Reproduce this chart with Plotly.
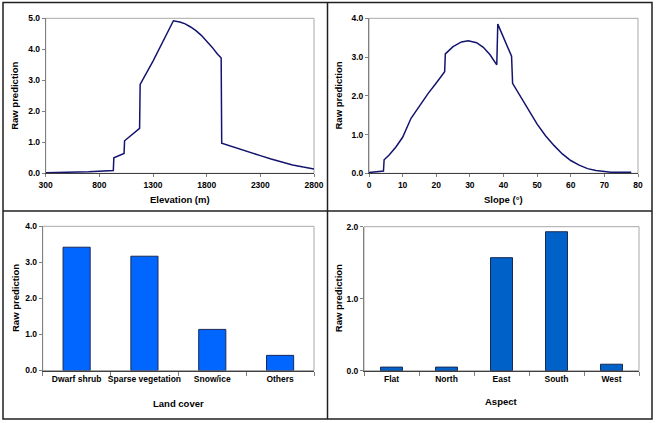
import plotly.graph_objects as go

W, H = 656, 423

# ---- data ----
elev_x = [300, 500, 700, 930, 935, 1030, 1035, 1175, 1180, 1300, 1400, 1490, 1550, 1600, 1650, 1700,
          1750, 1800, 1850, 1900, 1935, 1940, 2000, 2100, 2200, 2300, 2400, 2500, 2600, 2700, 2800]
elev_y = [0.02, 0.03, 0.05, 0.09, 0.50, 0.64, 1.05, 1.45, 2.87, 3.62, 4.30, 4.92, 4.88, 4.82, 4.72, 4.60,
          4.45, 4.27, 4.07, 3.85, 3.72, 0.97, 0.90, 0.79, 0.68, 0.57, 0.46, 0.36, 0.27, 0.20, 0.14]

slope_x = [0, 4.3, 4.5, 6, 8, 10, 12.5, 15, 17.5, 20, 22.5, 22.7, 25, 27.5, 29.5, 32, 34, 36, 38, 38.3,
           42.4, 42.7, 45, 47.5, 50, 52.5, 55, 57.5, 60, 62.5, 65, 67.5, 70, 72, 78]
slope_y = [0.02, 0.06, 0.35, 0.47, 0.68, 0.93, 1.42, 1.75, 2.05, 2.33, 2.62, 3.08, 3.27, 3.39, 3.42, 3.37,
           3.25, 3.06, 2.80, 3.85, 3.02, 2.32, 1.98, 1.62, 1.27, 0.97, 0.72, 0.50, 0.33, 0.21, 0.12, 0.07,
           0.04, 0.03, 0.03]

land_cats = ["Dwarf shrub", "Sparse vegetation", "Snow/ice", "Others"]
land_vals = [3.42, 3.17, 1.14, 0.42]

aspect_cats = ["Flat", "North", "East", "South", "West"]
aspect_vals = [0.05, 0.05, 1.57, 1.93, 0.09]

FONT = "Liberation Sans"
TICKFONT = dict(family=FONT, size=8.5, color="black", weight="bold")
TITLEFONT = dict(family=FONT, size=9.5, color="black")

def dx(px):
    return px / W

def dy(px):
    return 1 - px / H

fig = go.Figure()

fig.add_trace(go.Scatter(x=elev_x, y=elev_y, mode="lines", line=dict(color="#14146e", width=1.5),
                         xaxis="x", yaxis="y", showlegend=False))
fig.add_trace(go.Scatter(x=slope_x, y=slope_y, mode="lines", line=dict(color="#14146e", width=1.5),
                         xaxis="x2", yaxis="y2", showlegend=False))
fig.add_trace(go.Bar(x=land_cats, y=land_vals, width=0.4, marker=dict(color="#0066ff", line=dict(color="#1a2a55", width=1)),
                     xaxis="x3", yaxis="y3", showlegend=False))
fig.add_trace(go.Bar(x=aspect_cats, y=aspect_vals, width=0.4, marker=dict(color="#0062c8", line=dict(color="#1a2a55", width=1)),
                     xaxis="x4", yaxis="y4", showlegend=False))

# plot area pixel boxes: (x0, x1, ytop, ybottom)
boxes = {
    1: (45.7, 314, 18.3, 173.3),
    2: (369, 638, 18.3, 173.3),
    3: (42.7, 314, 226.3, 370.5),
    4: (364, 639, 226.7, 370.7),
}

axcommon = dict(showgrid=False, zeroline=False, showline=True, linecolor="#808080", linewidth=1,
                ticks="outside", ticklen=3, tickcolor="#808080", tickfont=TICKFONT, automargin=False,
                tickangle=0)

layout = dict(width=W, height=H, margin=dict(l=0, r=0, t=0, b=0, autoexpand=False), paper_bgcolor="white",
              plot_bgcolor="white", bargap=0.6)

for i, (x0, x1, yt, yb) in boxes.items():
    sx = "" if i == 1 else str(i)
    layout["xaxis" + sx] = dict(axcommon, domain=[dx(x0), dx(x1)], anchor="y" + sx, linecolor="#404040")
    layout["yaxis" + sx] = dict(axcommon, domain=[dy(yb), dy(yt)], anchor="x" + sx, tickformat=".1f")

layout["xaxis"].update(range=[300, 2800], dtick=500, tick0=300)
layout["yaxis"].update(range=[0, 5], dtick=1)
layout["xaxis2"].update(range=[0, 80], dtick=10, tick0=0)
layout["yaxis2"].update(range=[0, 4], dtick=1)
layout["xaxis3"].update(tickson="boundaries", ticklen=4)
layout["yaxis3"].update(range=[0, 4], dtick=1)
layout["xaxis4"].update(tickson="boundaries", ticklen=4)
layout["yaxis4"].update(range=[0, 2], dtick=1)

fig.update_layout(**layout)

shapes = []
# light gray plot-area borders (top / right)
for i, (x0, x1, yt, yb) in boxes.items():
    shapes.append(dict(type="rect", xref="paper", yref="paper", x0=dx(x0), x1=dx(x1), y0=dy(yb), y1=dy(yt),
                       line=dict(color="#a8a8a8", width=1), layer="below"))
# outer frame and dividers
frame = dict(color="#202020", width=1.5)
shapes.append(dict(type="rect", xref="paper", yref="paper", x0=dx(3), x1=dx(652), y0=dy(419), y1=dy(2.5), line=frame))
shapes.append(dict(type="line", xref="paper", yref="paper", x0=dx(327.5), x1=dx(327.5), y0=dy(419), y1=dy(2.5), line=frame))
shapes.append(dict(type="line", xref="paper", yref="paper", x0=dx(3), x1=dx(652), y0=dy(211), y1=dy(211), line=frame))
fig.update_layout(shapes=shapes)

ann = []
def title(text, xp, yp, rot=0):
    ann.append(dict(text="<b>%s</b>" % text, xref="paper", yref="paper", x=dx(xp), y=dy(yp), showarrow=False,
                    xanchor="center", yanchor="middle", textangle=rot, font=TITLEFONT))

title("Elevation (m)", (45.7 + 314) / 2, 199)
title("Slope (°)", (369 + 638) / 2, 199)
title("Land cover", (42.7 + 314) / 2, 403)
title("Aspect", (364 + 639) / 2, 401)
title("Raw prediction", 15, 95.8, -90)
title("Raw prediction", 338.7, 95.8, -90)
title("Raw prediction", 15, 298, -90)
title("Raw prediction", 338.7, 298.5, -90)
fig.update_layout(annotations=ann)

fig.write_html("out.html", config={"displayModeBar": False},
               post_script="document.body.style.margin='0px';document.body.style.overflow='hidden';")
